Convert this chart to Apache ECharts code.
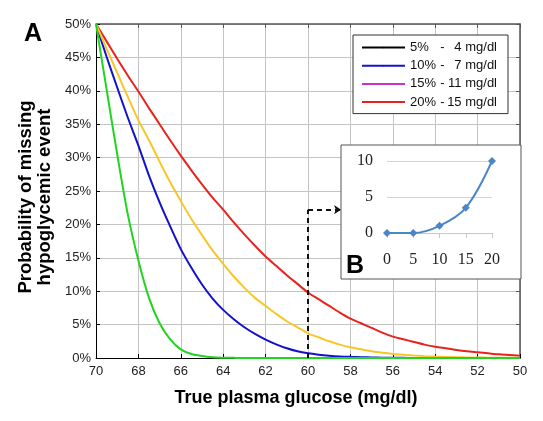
<!DOCTYPE html>
<html><head><meta charset="utf-8">
<script src="https://cdn.jsdelivr.net/npm/echarts@6/dist/echarts.min.js"></script>
<style>html,body{margin:0;padding:0;background:#fff}#c{width:543px;height:421px}</style>
</head><body><div id="c"></div>
<script>
// ---- data ----
const glucose = [70,69.5,69,68.5,68,67.5,67,66.5,66,65.5,65,64.5,64,63.5,63,62.5,62,
                 61.5,61,60.5,60,59.5,59,58.5,58,57.5,57,56.5,56,55.5,55,54.5,54,53.5,53,52.5,52,51.5,51,50.5,50];
const greenCurve  = [50,40.2,30.5,21.5,14.6,9.0,5.2,2.8,1.3,0.6,0.3,0.12,0.05,0.02,0,0,0,
                     0,0,0,0,0,0,0,0,0,0,0,0,0,0,0,0,0,0,0,0,0,0,0,0];
const blueCurve   = [50,45.1,40.5,36.0,31.8,27.3,23.3,19.7,16.3,13.5,11.0,8.9,7.2,5.8,4.6,3.6,2.75,
                     2.05,1.45,1.0,0.7,0.5,0.35,0.24,0.17,0.12,0.08,0.05,0.03,0.02,0.01,0,0,0,0,0,0,0,0,0,0];
const yellowCurve = [50,46.3,42.7,39.1,35.6,32.6,29.4,26.3,23.5,20.8,18.4,16.1,14.1,12.2,10.5,9.0,7.8,
                     6.6,5.5,4.6,3.7,3.1,2.5,2.0,1.6,1.3,1.0,0.8,0.6,0.48,0.37,0.28,0.21,0.16,0.12,0.09,0.07,0.05,0.04,0.03,0.02];
const redCurve    = [50,47.4,44.8,42.3,39.9,37.4,35.0,32.6,30.3,28.1,26.0,24.0,22.2,20.3,18.5,16.8,15.2,
                     13.8,12.4,11.1,9.8,8.8,7.8,6.8,5.9,5.2,4.5,3.8,3.2,2.8,2.4,2.0,1.7,1.45,1.2,1.0,0.85,0.7,0.55,0.45,0.35];
const legendNames = ['5% - 4 mg/dl','10% - 7 mg/dl','15% - 11 mg/dl','20% - 15 mg/dl'];
const legendColors = ['#000000','#1414c8','#c832c8','#e8231e'];
const insetX = [0,5,10,15,20];
const insetY = [0,0,1,3.5,10];
const arrowVertical = [[60,0],[60,22.2]];
const arrowHorizontal = [[60,22.2],[58.44,22.2]];

const pairs = (xs, ys) => xs.map((x,i)=>[x, ys[i]]);
const font = 'Liberation Sans, Arial, Helvetica, sans-serif';

const chart = echarts.init(document.getElementById('c'), null, {renderer:'canvas'});
const curveSeries = (name, color, vals) => ({
  name, type:'line', xAxisIndex:0, yAxisIndex:0, data: pairs(glucose, vals),
  smooth:0.3, symbol:'none', z:3,
  lineStyle:{color, width:2}, itemStyle:{color}
});

chart.setOption({
  animation:false,
  backgroundColor:'#fff',
  grid:[
    {left:96, top:24, width:424, height:334, containLabel:false},
    {left:387, top:161, width:105, height:72, containLabel:false, z:60}
  ],
  legend:{
    orient:'vertical', left:353, top:35, padding:[6,11,5,8],
    itemWidth:43, itemHeight:2, itemGap:5.2,
    borderColor:'#333', borderWidth:1, backgroundColor:'#fff', z:40,
    data: legendNames,
    formatter: (n)=>{ const p=n.split(' - '); return '{a|'+p[0]+'}{b|-}{c|'+p[1]+'}'; },
    textStyle:{fontFamily:font, fontSize:13, color:'#111',
      rich:{
        a:{fontFamily:font, fontSize:13, color:'#111', width:28, lineHeight:14},
        b:{fontFamily:font, fontSize:13, color:'#111', width:9, align:'center', lineHeight:14},
        c:{fontFamily:font, fontSize:13, color:'#111', width:50, align:'right', lineHeight:14}
      }}
  },
  xAxis:[
    {gridIndex:0, type:'value', min:50, max:70, interval:2, inverse:true, position:'bottom',
     axisLine:{show:true, onZero:false, lineStyle:{color:'#000', width:1}},
     axisTick:{show:true, inside:true, length:4, lineStyle:{color:'#000'}},
     axisLabel:{fontFamily:font, fontSize:13, color:'#222', margin:7},
     splitLine:{show:true, lineStyle:{color:'#c4c4c4', width:1}},
     name:'True plasma glucose (mg/dl)', nameLocation:'middle', nameGap:31,
     nameTextStyle:{fontFamily:font, fontSize:18, fontWeight:'bold', color:'#000', padding:[0,24,0,0]}},
    {gridIndex:0, type:'value', min:50, max:70, interval:2, inverse:true, position:'top',
     axisLine:{show:true, onZero:false, lineStyle:{color:'#555', width:1.5}},
     axisTick:{show:true, inside:true, length:4, lineStyle:{color:'#555'}},
     axisLabel:{show:false}, splitLine:{show:false}},
    {gridIndex:1, type:'value', min:0, max:20, interval:5, z:62,
     axisLine:{show:true, onZero:false, lineStyle:{color:'#c8c8c8', width:1}},
     axisTick:{show:true, length:5, lineStyle:{color:'#c8c8c8'}},
     axisLabel:{fontFamily:'Liberation Serif, DejaVu Serif, serif', fontSize:16, color:'#222', margin:19},
     splitLine:{show:false}}
  ],
  yAxis:[
    {gridIndex:0, type:'value', min:0, max:50, interval:5, position:'left',
     axisLine:{show:true, onZero:false, lineStyle:{color:'#000', width:1}},
     axisTick:{show:true, inside:true, length:4, lineStyle:{color:'#000'}},
     axisLabel:{fontFamily:font, fontSize:13, color:'#222', margin:5, formatter:'{value}%'},
     splitLine:{show:true, lineStyle:{color:'#c4c4c4', width:1}},
     name:'Probability of missing\nhypoglycemic event', nameLocation:'middle', nameGap:42, nameRotate:90,
     nameTextStyle:{fontFamily:font, fontSize:18.5, fontWeight:'bold', color:'#000', lineHeight:19, padding:[0,12,0,0]}},
    {gridIndex:0, type:'value', min:0, max:50, interval:5, position:'right',
     axisLine:{show:true, onZero:false, lineStyle:{color:'#555', width:1.5}},
     axisTick:{show:true, inside:true, length:4, lineStyle:{color:'#555'}},
     axisLabel:{show:false}, splitLine:{show:false}},
    {gridIndex:1, type:'value', min:0, max:10, interval:5, z:62,
     axisLine:{show:false}, axisTick:{show:false},
     axisLabel:{fontFamily:'Liberation Serif, DejaVu Serif, serif', fontSize:16, color:'#222', margin:14},
     splitLine:{show:true, lineStyle:{color:'#d4d4d4', width:1}}}
  ],
  graphic:[
    {type:'rect', shape:{x:341, y:145, width:180, height:134}, z:50,
     style:{fill:'#fff', stroke:'#555', lineWidth:1}},
    {type:'text', x:346, y:254, z:70,
     style:{text:'B', font:'bold 25px '+font, fill:'#000'}},
    {type:'text', x:24, y:22, z:70,
     style:{text:'A', font:'bold 25px '+font, fill:'#000'}}
  ],
  series:[
    ...legendNames.map((n,i)=>({name:n, type:'line', xAxisIndex:0, yAxisIndex:0, data:[],
       symbol:'none', legendIcon:'rect', lineStyle:{color:legendColors[i], width:2}, itemStyle:{color:legendColors[i]}})),
    curveSeries('red curve', '#e8231e', redCurve),
    curveSeries('blue curve', '#1212cc', blueCurve),
    curveSeries('yellow curve', '#f7c72a', yellowCurve),
    curveSeries('green curve', '#22d422', greenCurve),
    {type:'lines', coordinateSystem:'cartesian2d', xAxisIndex:0, yAxisIndex:0, z:5,
     symbol:['none','none'],
     lineStyle:{color:'#111', width:2, type:[5,4], opacity:1},
     data:[{coords:arrowVertical}]},
    {type:'lines', coordinateSystem:'cartesian2d', xAxisIndex:0, yAxisIndex:0, z:5,
     symbol:['none','arrow'], symbolSize:7,
     lineStyle:{color:'#111', width:2, type:[5,4], opacity:1},
     data:[{coords:arrowHorizontal}]},
    {name:'inset', type:'line', xAxisIndex:2, yAxisIndex:2, z:70,
     data:pairs(insetX, insetY), smooth:0.35,
     symbol:'diamond', symbolSize:8,
     lineStyle:{color:'#4a86c8', width:2}, itemStyle:{color:'#4a86c8'}}
  ]
});
</script></body></html>
